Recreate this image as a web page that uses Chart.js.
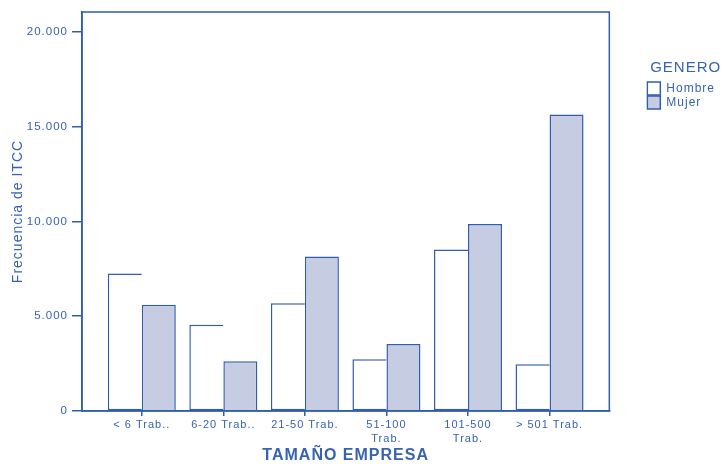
<!DOCTYPE html>
<html>
<head>
<meta charset="utf-8">
<script src="https://cdn.jsdelivr.net/npm/chart.js@4/dist/chart.umd.min.js"></script>
<style>
  html, body { margin: 0; padding: 0; background: #fff; }
  #wrap { width: 725px; height: 464px; }
</style>
</head>
<body>
<div id="wrap"><canvas id="tamanoChart"></canvas></div>
<script>
// Frecuencia de ITCC por tamaño de empresa y género
const categories = [['< 6 Trab..'], ['6-20 Trab..'], ['21-50 Trab.'], ['51-100', 'Trab.'], ['101-500', 'Trab.'], ['> 501 Trab.']];
const hombre = [7250, 4550, 5680, 2730, 8520, 2460];
const mujer = [5610, 2620, 8150, 3540, 9870, 15640];
const yTicks = [0, 5000, 10000, 15000, 20000];

const BLUE = '#2f5eae';
const TEXT = '#3763b2';
const FILL = '#c6cce2';

const fmt = (v) => String(v).replace(/\B(?=(\d{3})+(?!\d))/g, '.');

// spaced-out lettering like the SPSS export
const spacing = {
  id: 'spacing',
  beforeLayout: (chart) => { chart.ctx.letterSpacing = '1px'; },
  beforeDraw: (chart) => { chart.ctx.letterSpacing = '1px'; }
};

// box round the plot area
const frame = {
  id: 'frame',
  afterDraw: (chart) => {
    const { ctx, chartArea: a } = chart;
    ctx.save();
    ctx.strokeStyle = BLUE;
    ctx.lineWidth = 1.5;
    ctx.strokeRect(a.left, a.top, a.right - a.left, a.bottom - a.top);
    ctx.restore();
  }
};

new Chart(document.getElementById('tamanoChart'), {
  type: 'bar',
  data: {
    datasets: [
      {
        label: 'Hombre',
        data: hombre.map((v, i) => ({ x: i, y: v })),
        backgroundColor: '#ffffff',
        borderColor: BLUE,
        borderWidth: 1.5,
        borderSkipped: 'right'
      },
      {
        label: 'Mujer',
        data: mujer.map((v, i) => ({ x: i, y: v })),
        backgroundColor: FILL,
        borderColor: BLUE,
        borderWidth: 1.5
      }
    ]
  },
  options: {
    responsive: true,
    maintainAspectRatio: false,
    animation: false,
    categoryPercentage: 0.834,
    barPercentage: 1.0,
    layout: { padding: { top: 12, right: 0, bottom: 0, left: 0 } },
    plugins: {
      tooltip: { enabled: false },
      legend: {
        position: 'right',
        align: 'start',
        title: {
          display: true,
          text: 'GENERO',
          color: TEXT,
          font: { family: 'Liberation Sans', size: 15 },
          padding: { top: 48, bottom: 3 }
        },
        labels: {
          color: TEXT,
          font: { family: 'Liberation Sans', size: 12 },
          boxWidth: 13,
          boxHeight: 13,
          padding: 1,
          generateLabels: (chart) => chart.data.datasets.map((ds, i) => ({
            text: ds.label,
            fillStyle: ds.backgroundColor,
            strokeStyle: BLUE,
            lineWidth: 1.5,
            fontColor: TEXT,
            datasetIndex: i
          }))
        }
      }
    },
    scales: {
      x: {
        type: 'linear',
        offset: false,
        min: -0.733,
        max: 5.733,
        border: { color: BLUE, width: 1.5 },
        grid: { offset: false, drawOnChartArea: false, drawTicks: true, tickLength: 5, color: BLUE, lineWidth: 1.5 },
        ticks: {
          stepSize: 1,
          includeBounds: false,
          autoSkip: false,
          maxRotation: 0,
          padding: 2,
          color: TEXT,
          font: { family: 'Liberation Sans', size: 11, lineHeight: 1.25 },
          callback: (v) => categories[v]
        },
        title: {
          display: true,
          text: 'TAMAÑO EMPRESA',
          color: TEXT,
          font: { family: 'Liberation Sans', size: 16, weight: 'bold', lineHeight: 1 },
          padding: 0
        },
        afterFit: (s) => { s.height = 53; }
      },
      y: {
        min: 0,
        max: 21050,
        afterBuildTicks: (s) => { s.ticks = yTicks.map((v) => ({ value: v })); },
        border: { color: BLUE, width: 1.5 },
        grid: { drawOnChartArea: false, drawTicks: true, tickLength: 10, color: BLUE, lineWidth: 1.5 },
        ticks: {
          padding: 4,
          color: TEXT,
          font: { family: 'Liberation Sans', size: 11.5 },
          callback: (v) => fmt(v)
        },
        title: {
          display: true,
          text: 'Frecuencia de ITCC',
          color: TEXT,
          font: { family: 'Liberation Sans', size: 14 },
          padding: { top: 10, bottom: 0 }
        },
        afterFit: (s) => { s.width = 82; }
      },
      y2: {
        position: 'right',
        display: true,
        border: { display: false },
        grid: { display: false },
        ticks: { display: false },
        afterFit: (s) => { s.width = 37; }
      }
    }
  },
  plugins: [spacing, frame]
});
</script>
</body>
</html>
